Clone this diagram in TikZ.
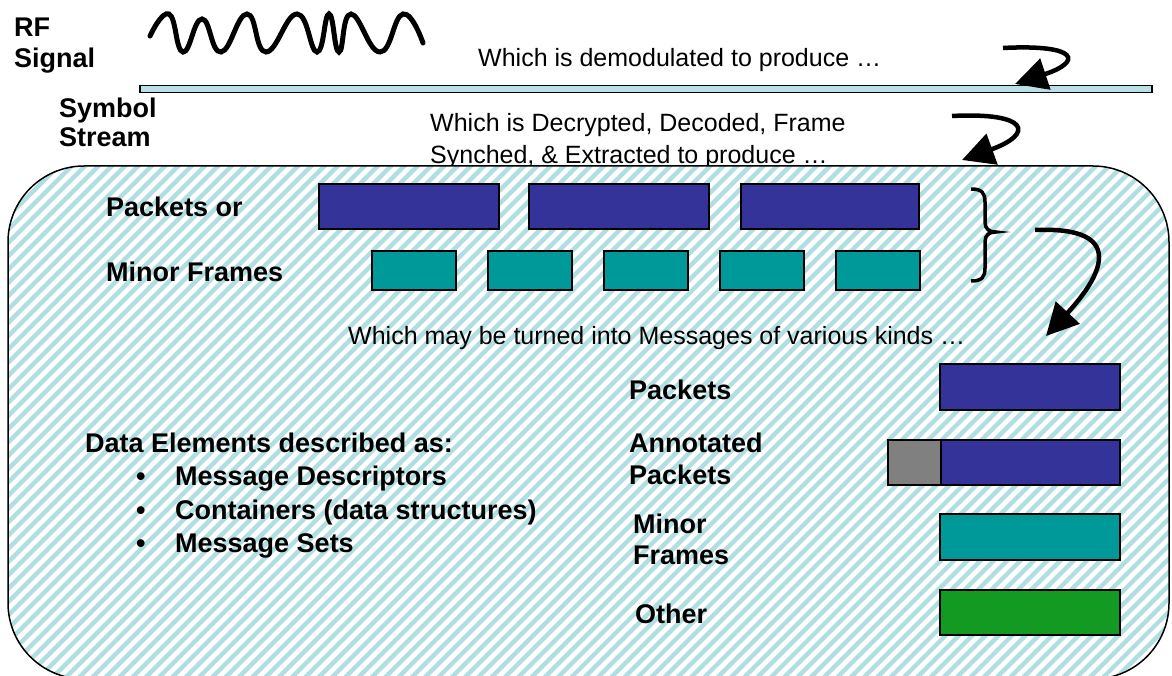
\documentclass[tikz,border=0pt]{standalone}
\usepackage{fontspec}
\setmainfont{Liberation Sans}
\usetikzlibrary{arrows.meta}
\definecolor{pktblue}{RGB}{51,51,153}
\definecolor{frmteal}{RGB}{0,153,153}
\definecolor{othgreen}{RGB}{19,154,35}
\definecolor{hatchblue}{RGB}{176,222,226}
\definecolor{barblue}{RGB}{183,225,228}
\begin{document}
\begin{tikzpicture}[x=1pt,y=-1pt,
  lbl/.style={inner sep=0,anchor=base west,font=\fontsize{27}{31}\selectfont\bfseries},
  note/.style={inner sep=0,anchor=base west,font=\fontsize{25}{29}\selectfont},
  blk/.style={draw=black,line width=2pt,inner sep=0,anchor=north west},
  pkt/.style={blk,fill=pktblue,minimum height=45pt},
  frm/.style={blk,fill=frmteal,minimum height=39pt,minimum width=84pt},
  flow/.style={line width=4.5pt,-{Triangle[length=32pt,width=32pt]}},
]
\useasboundingbox (0,0) rectangle (1172,676);

% RF signal and symbol stream
\node[lbl] (rf) at (14,37) {RF};
\node[lbl] (sig) at (14,68) {Signal};
\draw[line width=5pt,line cap=round] plot[smooth,tension=0.8] coordinates
  {(150,36) (169,14) (183,52) (202,19) (221,52) (247,14) (266,52) (297,14)
   (317,52) (329,14) (339,52) (351,14) (380,52) (403,14) (423,43)};
\node[note] (demod) at (478,67) {Which is demodulated to produce \dots};
\node[draw=black,line width=1.5pt,fill=barblue,inner sep=0,anchor=north west,
      minimum width=1012pt,minimum height=7pt] (bar) at (139,85) {};
\node[lbl] (sym) at (59,118) {Symbol};
\node[lbl] (strm) at (59,147) {Stream};
\node[note] (decr1) at (430,132) {Which is Decrypted, Decoded, Frame};
\node[note] (decr2) at (430,164) {Synched, \& Extracted to produce \dots};

% hatched frame for the extracted data (drawn over the text descenders)
\begin{scope}
  \clip[rounded corners=76pt] (8,166) rectangle (1169,679);
  \fill[white] (0,160) rectangle (1172,690);
  \foreach \i in {-55,...,90}
    \draw[hatchblue,line width=4.4pt] (\i*13.3,690) -- ++(700,-700);
\end{scope}
\draw[line width=1.5pt,rounded corners=76pt] (8,166) rectangle (1169,679);

% packets and minor frames
\node[lbl] (pkor) at (106,217) {Packets or};
\node[lbl] (mnfr) at (106,281) {Minor Frames};
\node[pkt,minimum width=180pt] (p1) at (318,183) {};
\node[pkt,minimum width=180pt] (p2) at (528,183) {};
\node[pkt,minimum width=178pt] (p3) at (740,183) {};
\node[frm] (f1) at (371,250) {};
\node[frm] (f2) at (487,250) {};
\node[frm] (f3) at (603,250) {};
\node[frm] (f4) at (719,250) {};
\node[frm] (f5) at (835,250) {};
\draw[line width=3.5pt] (971,189) .. controls (982,189) and (985,193) .. (985,202)
  -- (985,222) .. controls (985,229) and (989,232) .. (996,232)
  .. controls (989,232) and (985,235) .. (985,242)
  -- (985,268) .. controls (985,277) and (982,281) .. (971,281);

\node[note] (msgs) at (348,344) {Which may be turned into Messages of various kinds \dots};

% message kinds
\node[lbl] (lpk) at (629,399) {Packets};
\node[lbl] (lan1) at (629,452) {Annotated};
\node[lbl] (lan2) at (629,484) {Packets};
\node[lbl] (lmf1) at (633,533) {Minor};
\node[lbl] (lmf2) at (633,564) {Frames};
\node[lbl] (loth) at (635,623) {Other};
\node[pkt,minimum width=180pt,minimum height=46pt] (mpk) at (939,363) {};
\node[blk,fill=gray,minimum width=53pt,minimum height=45pt] (mann) at (887,439) {};
\node[pkt,minimum width=179pt] (mapk) at (940,439) {};
\node[blk,fill=frmteal,minimum width=180pt,minimum height=46pt] (mmf) at (939,513) {};
\node[blk,fill=othgreen,minimum width=180pt,minimum height=45pt] (moth) at (939,589) {};

% data elements
\node[lbl] (de) at (85,452) {Data Elements described as:};
\node[lbl] (b1) at (136,485) {•};
\node[lbl] (b2) at (136,519) {•};
\node[lbl] (b3) at (136,552) {•};
\node[lbl] (d1) at (175,485) {Message Descriptors};
\node[lbl] (d2) at (175,519) {Containers (data structures)};
\node[lbl] (d3) at (175,552) {Message Sets};

% flow arrows
\coordinate (a1s) at (1003,48);
\coordinate (a1e) at (1015,84);
\draw[flow] (a1s) .. controls (1080,44) and (1082,62) .. (a1e);
\coordinate (a2s) at (952,116);
\coordinate (a2e) at (962,160);
\draw[flow] (a2s) .. controls (1030,112) and (1034,134) .. (a2e);
\coordinate (a3s) at (1035,230);
\coordinate (a3e) at (1046,336);
\draw[flow] (a3s) .. controls (1130,226) and (1100,278) .. (a3e);
\end{tikzpicture}
\end{document}
